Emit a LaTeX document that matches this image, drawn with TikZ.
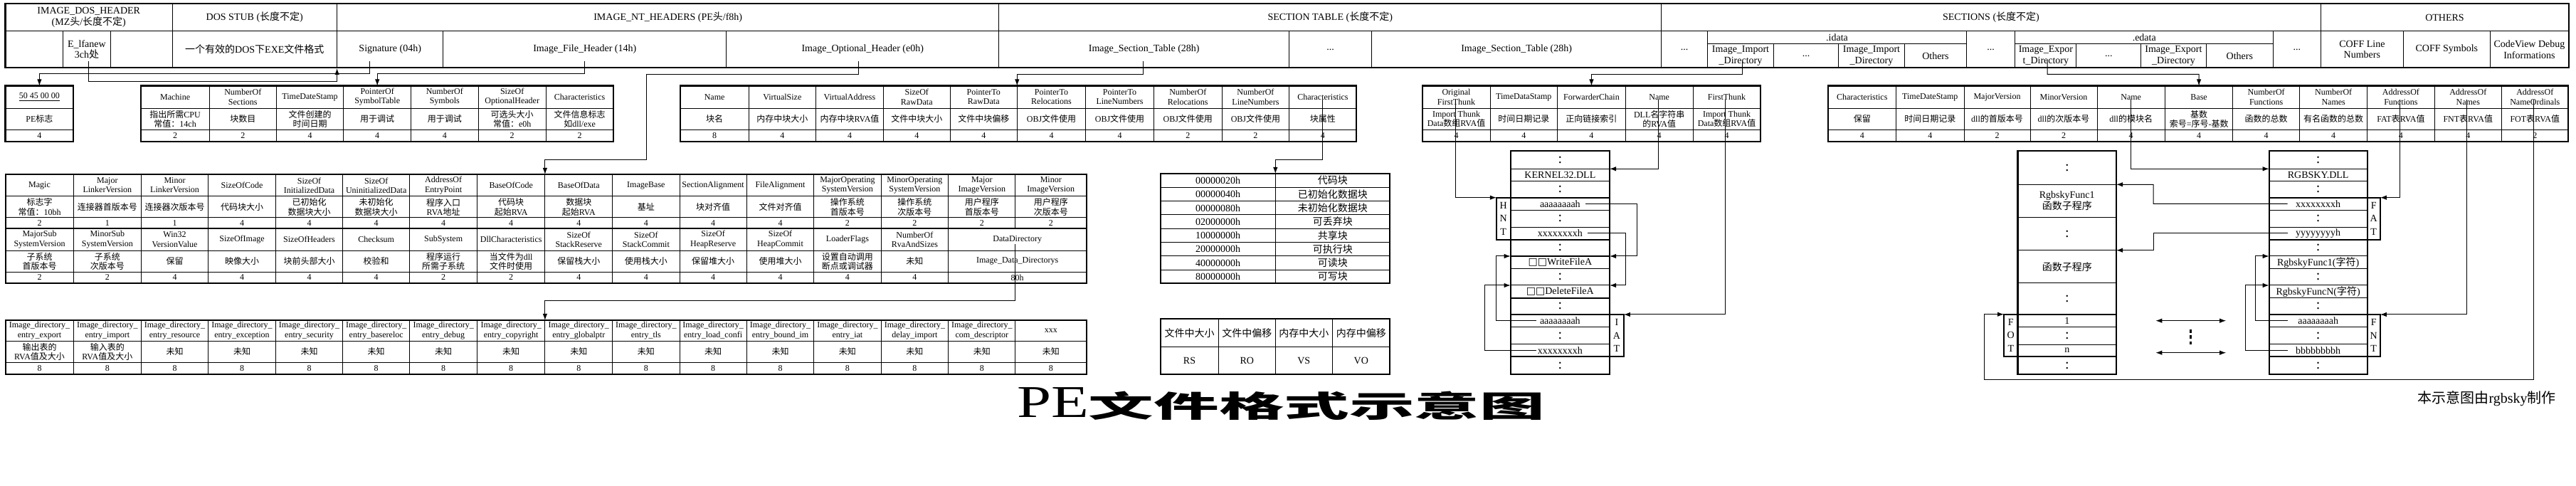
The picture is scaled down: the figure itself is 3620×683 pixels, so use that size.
\documentclass[tikz,border=0pt]{standalone}
\usepackage{fontspec}
\usepackage{graphicx}
\setmainfont{Liberation Serif}
\newfontfamily\cjk{Noto Sans CJK SC}
\newfontfamily\symf{DejaVu Sans}
\usetikzlibrary{arrows.meta}
\XeTeXinterchartokenstate=1
\newXeTeXintercharclass\CJKcls
\newcount\cjkc
\newcommand\setcjkrange[2]{\cjkc=#1\relax\loop\XeTeXcharclass\cjkc=\CJKcls\advance\cjkc by 1\relax\ifnum\cjkc<#2\relax\repeat}
\setcjkrange{"3000}{"3040}
\setcjkrange{"4E00}{"A000}
\setcjkrange{"FF00}{"FFF0}
\XeTeXinterchartoks 0 \CJKcls = {\cjk}
\XeTeXinterchartoks 4095 \CJKcls = {\cjk}
\XeTeXinterchartoks \CJKcls 0 = {\rmfamily}
\XeTeXinterchartoks \CJKcls 4095 = {\rmfamily}
% cell: [style]{x1}{y1}{x2}{y2}{name}{text}
\newcommand\tcell[7][]{\node[cellbox,#1,minimum width={(#4-#2)*0.5pt},minimum height={(#5-#3)*0.5pt}] (#6) at ({(#2+#4)/2},{(#3+#5)/2}) {#7};}
\newcommand\tct[6]{\tcell[topf]{#1}{#2}{#3}{#4}{#5}{#6}}
\newcommand\bxc[6]{\tcell[boxf]{#1}{#2}{#3}{#4}{#5}{#6}}
\newcommand\tcol[6]{\tcell{#1}{\ya}{#2}{\yb}{#3a}{#4}\tcell{#1}{\yb}{#2}{\yc}{#3b}{#5}\tcell{#1}{\yc}{#2}{\yd}{#3c}{#6}}
\newcommand\lbx[6]{\node[lbox,minimum width={(#3-#1)*0.5pt},minimum height={(#4-#2)*0.5pt}] (#5) at ({(#1+#3)/2},{(#2+#4)/2}) {#6};}
\newcommand\dts{{\fontsize{10}{10}\selectfont :}}
\begin{document}
\begin{tikzpicture}[x=0.5pt,y=-0.5pt,
 tk/.style={line width=1.1pt},
 cellbox/.style={draw,line width=0.5pt,inner sep=0pt,outer sep=0pt,align=center,font=\fontsize{6}{6.6}\selectfont},
 topf/.style={font=\fontsize{7}{7.8}\selectfont},
 boxf/.style={font=\fontsize{7}{7.8}\selectfont},
 flf/.style={font=\fontsize{7}{7.8}\selectfont},
 lbox/.style={draw,line width=1.1pt,inner sep=0pt,outer sep=0pt,align=center,font=\fontsize{7}{9.2}\selectfont},
 arr/.style={line width=0.5pt,-{Latex[length=4.5pt,width=3.2pt]}},
 darr/.style={line width=0.5pt,{Latex[length=4.5pt,width=3.2pt]}-{Latex[length=4.5pt,width=3.2pt]}},
 dash3/.style={line width=1.5pt,dash pattern=on 2.5pt off 1.8pt}]
\fill[white] (0,0) rectangle (3620,683);
\useasboundingbox (0,0) rectangle (3620,683);

% ===== top table =====
\tct{7.5}{5}{242}{44}{dosh}{IMAGE\_DOS\_HEADER\\(MZ头/长度不定)}
\tct{242}{5}{473.6}{44}{stubh}{DOS STUB (长度不定)}
\tct{473.6}{5}{1403.8}{44}{nth}{IMAGE\_NT\_HEADERS (PE头/f8h)}
\tct{1403.8}{5}{2334.6}{44}{sth}{SECTION TABLE (长度不定)}
\tct{2334.6}{5}{3261.3}{44}{sech}{SECTIONS (长度不定)}
\tct{3261.3}{5}{3609.6}{44}{othh}{OTHERS}
\tct{7.5}{44}{88.8}{95}{dos1}{}
\tct{88.8}{44}{155}{95}{lfanew}{E\_lfanew\\3ch处}
\tct{155}{44}{242}{95}{dos3}{}
\tct{242}{44}{473.6}{95}{stubd}{一个有效的DOS下EXE文件格式}
\tct{473.6}{44}{622.8}{95}{sig}{Signature (04h)}
\tct{622.8}{44}{1020.7}{95}{ifh}{Image\_File\_Header (14h)}
\tct{1020.7}{44}{1403.8}{95}{ioh}{Image\_Optional\_Header (e0h)}
\tct{1403.8}{44}{1811.6}{95}{ist1}{Image\_Section\_Table (28h)}
\tct{1811.6}{44}{1927.7}{95}{istd}{...}
\tct{1927.7}{44}{2334.6}{95}{ist2}{Image\_Section\_Table (28h)}
\tct{2334.6}{44}{2399.6}{95}{secd1}{...}
\tct{2399.6}{44}{2763.4}{62}{idata}{.idata}
\tct{2399.6}{62}{2492.4}{95}{iid1}{Image\_Import\\\_Directory}
\tct{2492.4}{62}{2583.6}{95}{iidd}{...}
\tct{2583.6}{62}{2676.4}{95}{iid2}{Image\_Import\\\_Directory}
\tct{2676.4}{62}{2763.4}{95}{ioth}{Others}
\tct{2763.4}{44}{2831.9}{95}{secd2}{...}
\tct{2831.9}{44}{3194.6}{62}{edata}{.edata}
\tct{2831.9}{62}{2917.8}{95}{eid1}{Image\_Expor\\t\_Directory}
\tct{2917.8}{62}{3008.9}{95}{eidd}{...}
\tct{3008.9}{62}{3100}{95}{eid2}{Image\_Export\\\_Directory}
\tct{3100}{62}{3194.6}{95}{eoth}{Others}
\tct{3194.6}{44}{3261.3}{95}{secd3}{...}
\tct{3261.3}{44}{3377.4}{95}{coffl}{COFF Line\\Numbers}
\tct{3377.4}{44}{3499.3}{95}{coffs}{COFF Symbols}
\tct{3499.3}{44}{3609.6}{95}{cvd}{CodeView Debug\\Informations}
\draw[tk] (7.5,5) rectangle (3609.6,95);

% ===== row-1 tables =====
\def\ya{120.5}\def\yb{152.3}\def\yc{182.3}\def\yd{199.3}
\tcol{7.5}{103.3}{pe}{\underline{50 45 00 00}}{PE标志}{4}
\draw[tk] (7.5,\ya) rectangle (103.3,\yd);

\tcol{197.9}{294.3}{fhA}{Machine}{指出所需CPU\\常值：14ch}{2}
\tcol{294.3}{388.3}{fhB}{NumberOf\\Sections}{块数目}{2}
\tcol{388.3}{482.9}{fhC}{TimeDateStamp}{文件创建的\\时间日期}{4}
\tcol{482.9}{577.5}{fhD}{PointerOf\\SymbolTable}{用于调试}{4}
\tcol{577.5}{672.1}{fhE}{NumberOf\\Symbols}{用于调试}{4}
\tcol{672.1}{767.3}{fhF}{SizeOf\\OptionalHeader}{可选头大小\\常值：e0h}{2}
\tcol{767.3}{861.9}{fhG}{Characteristics}{文件信息标志\\如dll/exe}{2}
\draw[tk] (197.9,\ya) rectangle (861.9,\yd);

\tcol{956.3}{1052}{shA}{Name}{块名}{8}
\tcol{1052}{1146.7}{shB}{VirtualSize}{内存中块大小}{4}
\tcol{1146.7}{1241.3}{shC}{VirtualAddress}{内存中块RVA值}{4}
\tcol{1241.3}{1335.3}{shD}{SizeOf\\RawData}{文件中块大小}{4}
\tcol{1335.3}{1429.3}{shE}{PointerTo\\RawData}{文件中块偏移}{4}
\tcol{1429.3}{1525.7}{shF}{PointerTo\\Relocations}{OBJ文件使用}{4}
\tcol{1525.7}{1621.4}{shG}{PointerTo\\LineNumbers}{OBJ文件使用}{4}
\tcol{1621.4}{1717.2}{shH}{NumberOf\\Relocations}{OBJ文件使用}{2}
\tcol{1717.2}{1811.7}{shI}{NumberOf\\LineNumbers}{OBJ文件使用}{2}
\tcol{1811.7}{1906.2}{shJ}{Characteristics}{块属性}{4}
\draw[tk] (956.3,\ya) rectangle (1906.2,\yd);

\tcol{1999}{2094}{imA}{Original\\FirstThunk}{Import Thunk\\Data数组RVA值}{4}
\tcol{2094}{2188.6}{imB}{TimeDataStamp}{时间日期记录}{4}
\tcol{2188.6}{2284.3}{imC}{ForwarderChain}{正向链接索引}{4}
\tcol{2284.3}{2379}{imD}{Name}{DLL名字符串\\的RVA值}{4}
\tcol{2379}{2474}{imE}{FirstThunk}{Import Thunk\\Data数组RVA值}{4}
\draw[tk] (1999,\ya) rectangle (2474,\yd);

\tcol{2568.9}{2664.6}{exA}{Characteristics}{保留}{4}
\tcol{2664.6}{2760}{exB}{TimeDateStamp}{时间日期记录}{4}
\tcol{2760}{2853}{exC}{MajorVersion}{dll的首版本号}{2}
\tcol{2853}{2947}{exD}{MinorVersion}{dll的次版本号}{2}
\tcol{2947}{3042.4}{exE}{Name}{dll的模块名}{4}
\tcol{3042.4}{3137.8}{exF}{Base}{基数\\索号=序号-基数}{4}
\tcol{3137.8}{3231.6}{exG}{NumberOf\\Functions}{函数的总数}{4}
\tcol{3231.6}{3326.8}{exH}{NumberOf\\Names}{有名函数的总数}{4}
\tcol{3326.8}{3421}{exI}{AddressOf\\Functions}{FAT表RVA值}{4}
\tcol{3421}{3515.5}{exJ}{AddressOf\\Names}{FNT表RVA值}{4}
\tcol{3515.5}{3609}{exK}{AddressOf\\NameOrdinals}{FOT表RVA值}{2}
\draw[tk] (2568.9,\ya) rectangle (3609,\yd);

% ===== optional header =====
\def\ya{245}\def\yb{276}\def\yc{306}\def\yd{321}
\tcol{7.9}{103.2}{oaA}{Magic}{标志字\\常值：10bh}{2}
\tcol{103.2}{198.5}{oaB}{Major\\LinkerVersion}{连接器首版本号}{1}
\tcol{198.5}{292.6}{oaC}{Minor\\LinkerVersion}{连接器次版本号}{1}
\tcol{292.6}{387.4}{oaD}{SizeOfCode}{代码块大小}{4}
\tcol{387.4}{481.6}{oaE}{SizeOf\\InitializedData}{已初始化\\数据块大小}{4}
\tcol{481.6}{575.8}{oaF}{SizeOf\\UninitializedData}{未初始化\\数据块大小}{4}
\tcol{575.8}{670.5}{oaG}{AddressOf\\EntryPoint}{程序入口\\RVA地址}{4}
\tcol{670.5}{765.9}{oaH}{BaseOfCode}{代码块\\起始RVA}{4}
\tcol{765.9}{860.7}{oaI}{BaseOfData}{数据块\\起始RVA}{4}
\tcol{860.7}{955}{oaJ}{ImageBase}{基址}{4}
\tcol{955}{1049.2}{oaK}{SectionAlignment}{块对齐值}{4}
\tcol{1049.2}{1143.9}{oaL}{FileAlignment}{文件对齐值}{4}
\tcol{1143.9}{1238}{oaM}{MajorOperating\\SystemVersion}{操作系统\\首版本号}{2}
\tcol{1238}{1332.8}{oaN}{MinorOperating\\SystemVersion}{操作系统\\次版本号}{2}
\tcol{1332.8}{1426.9}{oaO}{Major\\ImageVersion}{用户程序\\首版本号}{2}
\tcol{1426.9}{1526.6}{oaP}{Minor\\ImageVersion}{用户程序\\次版本号}{2}
\def\ya{321}\def\yb{352.3}\def\yc{382.3}\def\yd{397.7}
\tcol{7.9}{103.2}{obA}{MajorSub\\SystemVersion}{子系统\\首版本号}{2}
\tcol{103.2}{198.5}{obB}{MinorSub\\SystemVersion}{子系统\\次版本号}{2}
\tcol{198.5}{292.6}{obC}{Win32\\VersionValue}{保留}{4}
\tcol{292.6}{387.4}{obD}{SizeOfImage}{映像大小}{4}
\tcol{387.4}{481.6}{obE}{SizeOfHeaders}{块前头部大小}{4}
\tcol{481.6}{575.8}{obF}{Checksum}{校验和}{4}
\tcol{575.8}{670.5}{obG}{SubSystem}{程序运行\\所需子系统}{2}
\tcol{670.5}{765.9}{obH}{DllCharacteristics}{当文件为dll\\文件时使用}{2}
\tcol{765.9}{860.7}{obI}{SizeOf\\StackReserve}{保留栈大小}{4}
\tcol{860.7}{955}{obJ}{SizeOf\\StackCommit}{使用栈大小}{4}
\tcol{955}{1049.2}{obK}{SizeOf\\HeapReserve}{保留堆大小}{4}
\tcol{1049.2}{1143.9}{obL}{SizeOf\\HeapCommit}{使用堆大小}{4}
\tcol{1143.9}{1238}{obM}{LoaderFlags}{设置自动调用\\断点或调试器}{4}
\tcol{1238}{1332.8}{obN}{NumberOf\\RvaAndSizes}{未知}{4}
\tcol{1332.8}{1526.6}{obO}{DataDirectory}{Image\_Data\_Directorys}{80h}
\draw[tk] (7.9,245) rectangle (1526.6,397.7);
\draw[tk] (7.9,321) -- (1526.6,321);

% ===== data directory =====
\def\ya{450}\def\yb{479.3}\def\yc{509.3}\def\yd{526}
\tcol{7.9}{103.2}{dtA}{Image\_directory\_\\entry\_export}{输出表的\\RVA值及大小}{8}
\tcol{103.2}{198.5}{dtB}{Image\_directory\_\\entry\_import}{输入表的\\RVA值及大小}{8}
\tcol{198.5}{292.6}{dtC}{Image\_directory\_\\entry\_resource}{未知}{8}
\tcol{292.6}{387.4}{dtD}{Image\_directory\_\\entry\_exception}{未知}{8}
\tcol{387.4}{481.6}{dtE}{Image\_directory\_\\entry\_security}{未知}{8}
\tcol{481.6}{575.8}{dtF}{Image\_directory\_\\entry\_basereloc}{未知}{8}
\tcol{575.8}{670.5}{dtG}{Image\_directory\_\\entry\_debug}{未知}{8}
\tcol{670.5}{765.9}{dtH}{Image\_directory\_\\entry\_copyright}{未知}{8}
\tcol{765.9}{860.7}{dtI}{Image\_directory\_\\entry\_globalptr}{未知}{8}
\tcol{860.7}{955}{dtJ}{Image\_directory\_\\entry\_tls}{未知}{8}
\tcol{955}{1049.2}{dtK}{Image\_directory\_\\entry\_load\_confi}{未知}{8}
\tcol{1049.2}{1143.9}{dtL}{Image\_directory\_\\entry\_bound\_im}{未知}{8}
\tcol{1143.9}{1238}{dtM}{Image\_directory\_\\entry\_iat}{未知}{8}
\tcol{1238}{1332.8}{dtN}{Image\_directory\_\\delay\_import}{未知}{8}
\tcol{1332.8}{1426.9}{dtO}{Image\_directory\_\\com\_descriptor}{未知}{8}
\tcol{1426.9}{1526.6}{dtP}{xxx}{未知}{8}
\draw[tk] (7.9,\ya) rectangle (1526.6,\yd);

% ===== section flags =====
\foreach \fa/\fb [count=\i] in {00000020h/代码块,00000040h/已初始化数据块,00000080h/未初始化数据块,02000000h/可丢弃块,10000000h/共享块,20000000h/可执行块,40000000h/可读块,80000000h/可写块}{
  \pgfmathsetmacro\yt{244+(\i-1)*19.29}
  \pgfmathsetmacro\yu{244+\i*19.29}
  \tcell[flf]{1630.7}{\yt}{1792.3}{\yu}{flv\i}{\fa}
  \tcell[flf]{1792.3}{\yt}{1953.3}{\yu}{flt\i}{\fb}
}
\draw[tk] (1630.7,244) rectangle (1953.3,398.3);

\tcell[flf]{1630.7}{448.3}{1712.3}{487.3}{rsA}{文件中大小}
\tcell[flf]{1712.3}{448.3}{1792.3}{487.3}{rsB}{文件中偏移}
\tcell[flf]{1792.3}{448.3}{1872.3}{487.3}{rsC}{内存中大小}
\tcell[flf]{1872.3}{448.3}{1953.3}{487.3}{rsD}{内存中偏移}
\tcell[flf]{1630.7}{487.3}{1712.3}{525.7}{rsE}{RS}
\tcell[flf]{1712.3}{487.3}{1792.3}{525.7}{rsF}{RO}
\tcell[flf]{1792.3}{487.3}{1872.3}{525.7}{rsG}{VS}
\tcell[flf]{1872.3}{487.3}{1953.3}{525.7}{rsH}{VO}
\draw[tk] (1630.7,448.3) rectangle (1953.3,525.7);

% ===== import DLL box =====
\bxc{2122.7}{211.7}{2262}{237.3}{k1}{\dts}
\bxc{2122.7}{237.3}{2262}{254.3}{k2}{KERNEL32.DLL}
\bxc{2122.7}{254.3}{2262}{277.7}{k3}{\dts}
\bxc{2122.7}{277.7}{2262}{295.3}{k4}{aaaaaaaah}
\bxc{2122.7}{295.3}{2262}{319.3}{k5}{\dts}
\bxc{2122.7}{319.3}{2262}{336.7}{k6}{xxxxxxxxh}
\bxc{2122.7}{336.7}{2262}{360}{k7}{\dts}
\bxc{2122.7}{360}{2262}{377.3}{k8}{{\symf □□}WriteFileA}
\bxc{2122.7}{377.3}{2262}{401}{k9}{\dts}
\bxc{2122.7}{401}{2262}{418.7}{k10}{{\symf □□}DeleteFileA}
\bxc{2122.7}{418.7}{2262}{442}{k11}{\dts}
\bxc{2122.7}{442}{2262}{460}{k12}{aaaaaaaah}
\bxc{2122.7}{460}{2262}{484}{k13}{\dts}
\bxc{2122.7}{484}{2262}{501}{k14}{xxxxxxxxh}
\bxc{2122.7}{501}{2262}{526}{k15}{\dts}
\draw[tk] (2122.7,211.7) rectangle (2262,526);
\foreach \yy in {277.7,336.7,360,418.7,442,501} \draw[tk] (2122.7,\yy) -- (2262,\yy);
\lbx{2102.8}{277.7}{2122.7}{336.7}{hnt}{H\\N\\T}
\lbx{2262}{442}{2281.9}{501}{iat}{I\\A\\T}

% ===== export function box =====
\bxc{2835.5}{211.7}{2974}{259.3}{f1}{\dts}
\bxc{2835.5}{259.3}{2974}{305.7}{f2}{RgbskyFunc1\\函数子程序}
\bxc{2835.5}{305.7}{2974}{351.7}{f3}{\dts}
\bxc{2835.5}{351.7}{2974}{397.7}{f4}{函数子程序}
\bxc{2835.5}{397.7}{2974}{441.7}{f5}{\dts}
\bxc{2835.5}{441.7}{2974}{459.3}{f6}{1}
\bxc{2835.5}{459.3}{2974}{484.3}{f7}{\dts}
\bxc{2835.5}{484.3}{2974}{501}{f8}{n}
\bxc{2835.5}{501}{2974}{526}{f9}{\dts}
\draw[tk] (2835.5,211.7) rectangle (2974,526);
\foreach \yy in {441.7,501} \draw[tk] (2835.5,\yy) -- (2974,\yy);
\lbx{2816}{441.7}{2835.5}{501}{fot}{F\\O\\T}

% ===== export names box =====
\bxc{3188.7}{211.7}{3326.6}{237.3}{r1}{\dts}
\bxc{3188.7}{237.3}{3326.6}{254.3}{r2}{RGBSKY.DLL}
\bxc{3188.7}{254.3}{3326.6}{277.7}{r3}{\dts}
\bxc{3188.7}{277.7}{3326.6}{295.3}{r4}{xxxxxxxxh}
\bxc{3188.7}{295.3}{3326.6}{319.3}{r5}{\dts}
\bxc{3188.7}{319.3}{3326.6}{336.7}{r6}{yyyyyyyyh}
\bxc{3188.7}{336.7}{3326.6}{360}{r7}{\dts}
\bxc{3188.7}{360}{3326.6}{377.3}{r8}{RgbskyFunc1(字符)}
\bxc{3188.7}{377.3}{3326.6}{401}{r9}{\dts}
\bxc{3188.7}{401}{3326.6}{418.7}{r10}{RgbskyFuncN(字符)}
\bxc{3188.7}{418.7}{3326.6}{442}{r11}{\dts}
\bxc{3188.7}{442}{3326.6}{459.3}{r12}{aaaaaaaah}
\bxc{3188.7}{459.3}{3326.6}{484}{r13}{\dts}
\bxc{3188.7}{484}{3326.6}{501}{r14}{bbbbbbbbh}
\bxc{3188.7}{501}{3326.6}{526}{r15}{\dts}
\draw[tk] (3188.7,211.7) rectangle (3326.6,526);
\foreach \yy in {277.7,336.7,442,501} \draw[tk] (3188.7,\yy) -- (3326.6,\yy);
\lbx{3326.6}{277.7}{3344.8}{336.7}{fat}{F\\A\\T}
\lbx{3326.6}{442}{3344.8}{501}{fnt}{F\\N\\T}

% ===== connectors =====
\coordinate (lfA) at (124.8,86); \coordinate (lfB) at (124.8,115);
\coordinate (lfC) at (473.6,115); \coordinate (lfD) at (473.6,96);
\draw[arr] (lfA) -- (lfB) -- (lfC) -- (lfD);
\coordinate (sgA) at (519.5,86); \coordinate (sgB) at (519.5,103.3); \coordinate (sgC) at (55.4,103.3);
\draw[arr] (sgA) -- (sgB) -- (sgC) -- (pea.north);
\coordinate (fhX) at (821.3,86); \coordinate (fhY) at (821.3,103.3); \coordinate (fhZ) at (530.2,103.3);
\draw[arr] (fhX) -- (fhY) -- (fhZ) -- (fhDa.north);
\coordinate (ohA) at (1206,86); \coordinate (ohB) at (1206,104.3); \coordinate (ohC) at (908.7,104.3);
\coordinate (ohD) at (908.7,225); \coordinate (ohE) at (765.9,225); \coordinate (ohF) at (765.9,245);
\draw[arr] (ohA) -- (ohB) -- (ohC) -- (ohD) -- (ohE) -- (ohF);
\coordinate (stA) at (1606,86); \coordinate (stB) at (1606,104.3); \coordinate (stC) at (1429.3,104.3); \coordinate (stD) at (1429.3,120.5);
\draw[arr] (stA) -- (stB) -- (stC) -- (stD);
\coordinate (idA) at (2448,86); \coordinate (idB) at (2448,104.3); \coordinate (idC) at (2236.45,104.3);
\draw[arr] (idA) -- (idB) -- (idC) -- (imCa.north);
\coordinate (edA) at (2877,86); \coordinate (edB) at (2877,104.3); \coordinate (edC) at (3090.1,104.3);
\draw[arr] (edA) -- (edB) -- (edC) -- (exFa.north);
\coordinate (chA) at (1858.9,140); \coordinate (chB) at (1858.9,225); \coordinate (chC) at (1792.3,225); \coordinate (chD) at (1792.3,244);
\draw[arr] (chA) -- (chB) -- (chC) -- (chD);
\coordinate (dirA) at (1426.9,343); \coordinate (dirB) at (1426.9,423); \coordinate (dirC) at (765.9,423); \coordinate (dirD) at (765.9,450);
\draw[arr] (dirA) -- (dirB) -- (dirC) -- (dirD);
% import
\coordinate (oftA) at (2045.6,140); \coordinate (oftB) at (2045.6,277.7);
\draw[arr] (oftA) -- (oftB) -- (hnt.north west);
\coordinate (inA) at (2330.4,140); \coordinate (inB) at (2330.4,237.3);
\draw[arr] (inA) -- (inB) -- (k2.north east);
\coordinate (ftA) at (2424,140); \coordinate (ftB) at (2424,442);
\draw[arr] (ftA) -- (ftB) -- (iat.north east);
\coordinate (h1A) at (2228,286.5); \coordinate (h1B) at (2300.5,286.5); \coordinate (h1C) at (2300.5,360);
\draw[arr] (h1A) -- (h1B) -- (h1C) -- (k8.north east);
\coordinate (h2A) at (2230.9,328); \coordinate (h2B) at (2284.4,328); \coordinate (h2C) at (2284.4,401);
\draw[arr] (h2A) -- (h2B) -- (h2C) -- (k10.north east);
\coordinate (i1A) at (2158.8,451); \coordinate (i1B) at (2102.4,451); \coordinate (i1C) at (2102.4,360);
\draw[arr] (i1A) -- (i1B) -- (i1C) -- (k8.north west);
\coordinate (i2A) at (2158.8,492.5); \coordinate (i2B) at (2086.2,492.5); \coordinate (i2C) at (2086.2,401);
\draw[arr] (i2A) -- (i2B) -- (i2C) -- (k10.north west);
% export
\coordinate (enA) at (2994.5,140); \coordinate (enB) at (2994.5,237.3);
\draw[arr] (enA) -- (enB) -- (r2.north west);
\coordinate (afA) at (3372.4,140); \coordinate (afB) at (3372.4,277.7);
\draw[arr] (afA) -- (afB) -- (fat.north east);
\coordinate (anA) at (3466.5,140); \coordinate (anB) at (3466.5,442);
\draw[arr] (anA) -- (anB) -- (fnt.north east);
\coordinate (aoA) at (3560.5,140); \coordinate (aoB) at (3560.5,533.3); \coordinate (aoC) at (2788.6,533.3); \coordinate (aoD) at (2788.6,441.7);
\draw[arr] (aoA) -- (aoB) -- (aoC) -- (aoD) -- (fot.north west);
\coordinate (x1A) at (3214.7,286.5); \coordinate (x1B) at (3026,286.5); \coordinate (x1C) at (3026,259.3);
\draw[arr] (x1A) -- (x1B) -- (x1C) -- (f2.north east);
\coordinate (y1A) at (3214.7,328); \coordinate (y1B) at (3026,328); \coordinate (y1C) at (3026,351.7);
\draw[arr] (y1A) -- (y1B) -- (y1C) -- (f4.north east);
\coordinate (a1A) at (3214.7,451); \coordinate (a1B) at (3169.8,451); \coordinate (a1C) at (3169.8,360);
\draw[arr] (a1A) -- (a1B) -- (a1C) -- (r8.north west);
\coordinate (b1A) at (3214.7,492.5); \coordinate (b1B) at (3155.5,492.5); \coordinate (b1C) at (3155.5,401);
\draw[arr] (b1A) -- (b1B) -- (b1C) -- (r10.north west);
\coordinate (dA1) at (3029.3,450.7); \coordinate (dB1) at (3128.2,450.7);
\coordinate (dA2) at (3029.3,495.7); \coordinate (dB2) at (3128.2,495.7);
\draw[darr] (dA1) -- (dB1);
\draw[darr] (dA2) -- (dB2);
\coordinate (vA) at (3078,462.7); \coordinate (vB) at (3078,484);
\draw[dash3] (vA) -- (vB);

% ===== title & credit =====
\node[inner sep=0pt] (title) at (1800,568) {\scalebox{1.35}[1]{\fontsize{32}{32}\selectfont PE}\scalebox{2.18}[1]{\fontsize{21}{21}\selectfont\bfseries 文件格式示意图}};
\node[anchor=east,inner sep=0pt] (credit) at (3592,560) {\fontsize{10}{10}\selectfont 本示意图由rgbsky制作};
\end{tikzpicture}
\end{document}
